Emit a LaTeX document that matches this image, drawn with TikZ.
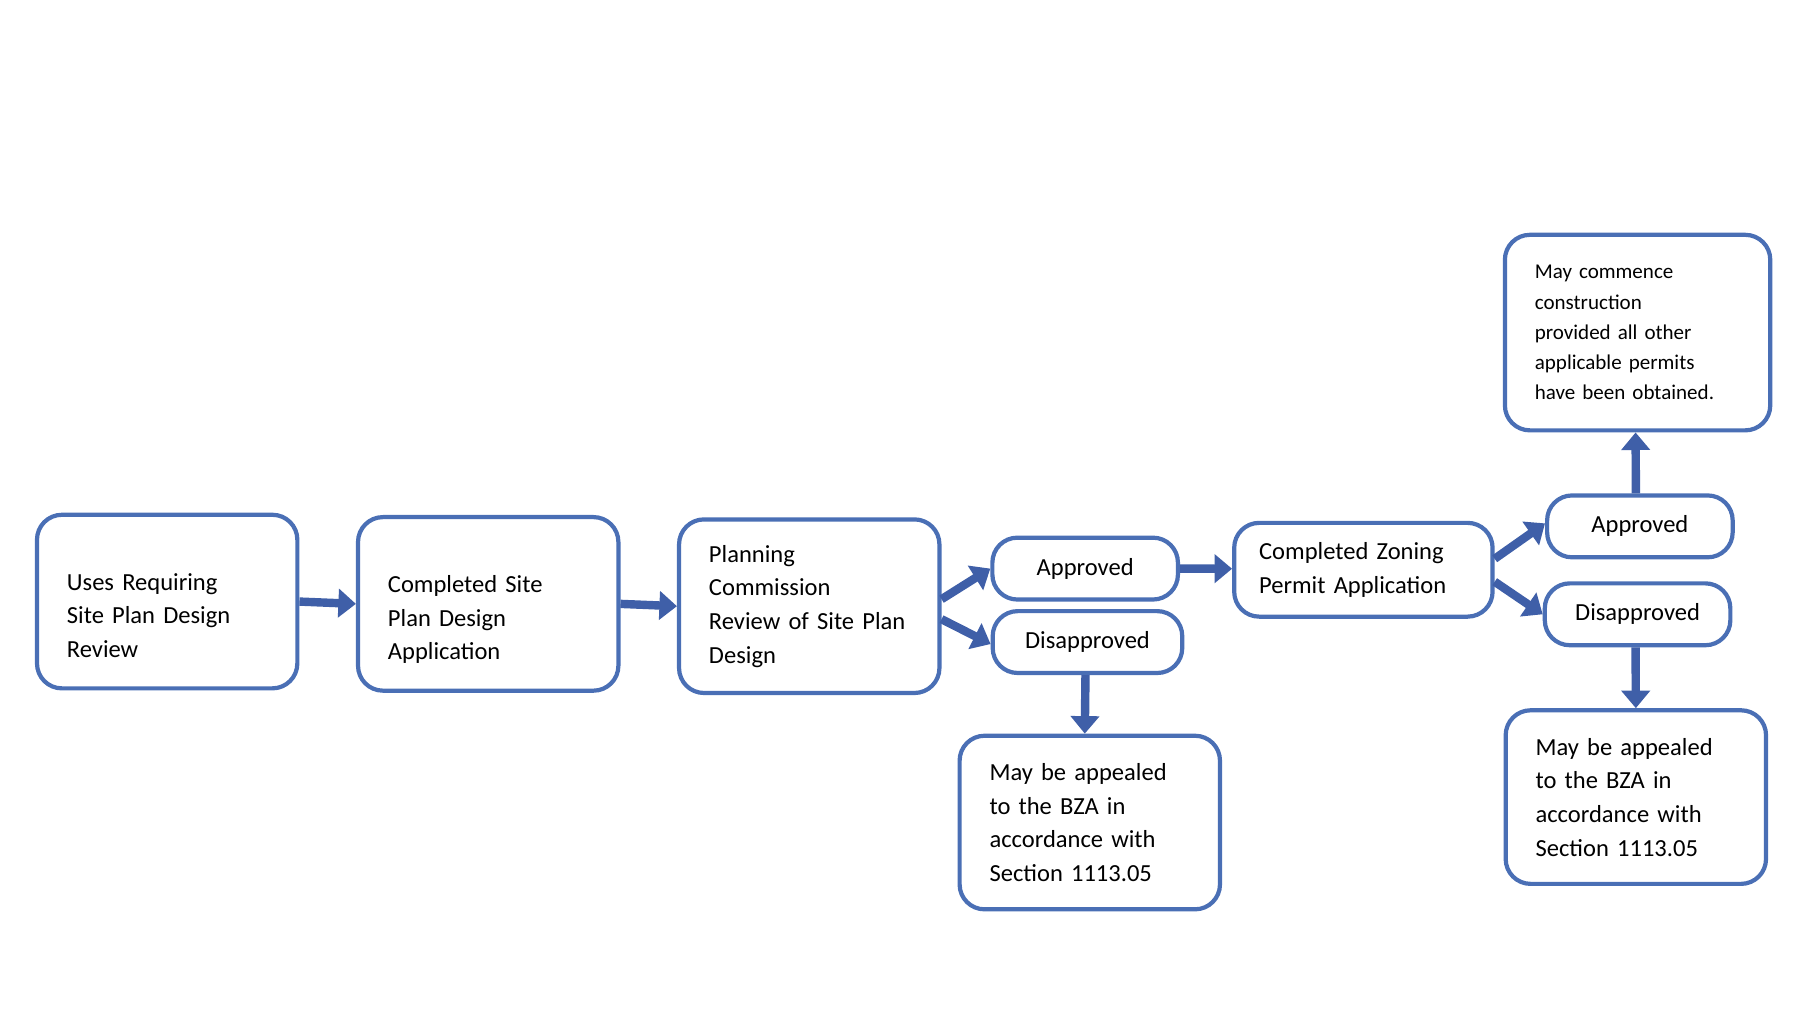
\documentclass[tikz,border=0pt]{standalone}
\usepackage{fontspec}
\setmainfont{Carlito}
\usetikzlibrary{arrows.meta}
\definecolor{boxblue}{HTML}{4A6FB5}
\definecolor{arrowblue}{HTML}{3F5FA8}
\tikzset{
  box/.style={draw=boxblue,line width=1.2pt,rounded corners=0.25cm,fill=white,
    inner xsep=0pt,inner ysep=2pt,font=\fontsize{7}{9.6}\selectfont},
  bigbox/.style={box,minimum width=2.61cm,minimum height=1.74cm,text width=2.01cm,align=left},
  smallbox/.style={box,minimum height=0.62cm,align=center},
  flow/.style={arrowblue,line width=2.4pt,-{Triangle[length=5pt,width=8pt]}}
}
\begin{document}
\begin{tikzpicture}[x=0.0116cm,y=-0.0116cm]
\useasboundingbox (0,0) rectangle (1568,882);

\node[bigbox,text depth=0.4cm] (uses) at (144.5,520) {Uses Requiring\\Site Plan Design\\Review};
\node[bigbox,text depth=0.4cm] (siteapp) at (422,522) {Completed Site\\Plan Design\\Application};
\node[bigbox] (review) at (699.5,524) {Planning\\Commission\\Review of Site Plan\\Design};
\node[smallbox,minimum width=1.86cm] (approved) at (938,491.5) {Approved};
\node[smallbox,minimum width=1.90cm] (disapproved) at (940,555) {Disapproved};
\node[bigbox] (appeal) at (942,711) {May be appealed\\to the BZA in\\accordance with\\Section 1113.05};
\node[box,minimum width=2.59cm,minimum height=0.94cm,text width=2.09cm,align=left] (zoning) at (1178.5,492.5) {Completed Zoning\\Permit Application};
\node[smallbox,minimum width=1.86cm] (approvedz) at (1417.5,455) {Approved};
\node[smallbox,minimum width=1.86cm] (disapprovedz) at (1415.5,531) {Disapproved};
\node[bigbox] (appealz) at (1414,689) {May be appealed\\to the BZA in\\accordance with\\Section 1113.05};
\node[box,minimum width=2.66cm,minimum height=1.96cm,text width=2.06cm,align=left,
  font=\fontsize{6}{8.6}\selectfont] (commence) at (1415.5,287.5)
  {May commence\\construction\\provided all other\\applicable permits\\have been obtained.};

% connectors
\draw[flow] (uses.east) -- (siteapp.west);
\draw[flow] (siteapp.east) -- (review.west);
\draw[flow] ([yshift=0.07cm]review.east) -- ([yshift=0cm]approved.west);
\draw[flow] ([yshift=-0.13cm]review.east) -- ([yshift=-0.02cm]disapproved.west);
\draw[flow] ([xshift=-0.02cm]disapproved.south) -- ([xshift=-0.05cm]appeal.north);
\draw[flow] (approved.east) -- ([yshift=0.01cm]zoning.west);
\draw[flow] ([yshift=0.11cm]zoning.east) -- ([yshift=0.03cm]approvedz.west);
\draw[flow] ([yshift=-0.12cm]zoning.east) -- ([yshift=0cm]disapprovedz.west);
\draw[flow] ([xshift=-0.04cm]approvedz.north) -- ([xshift=-0.02cm]commence.south);
\draw[flow] ([xshift=-0.02cm]disapprovedz.south) -- (appealz.north);
\end{tikzpicture}
\end{document}
